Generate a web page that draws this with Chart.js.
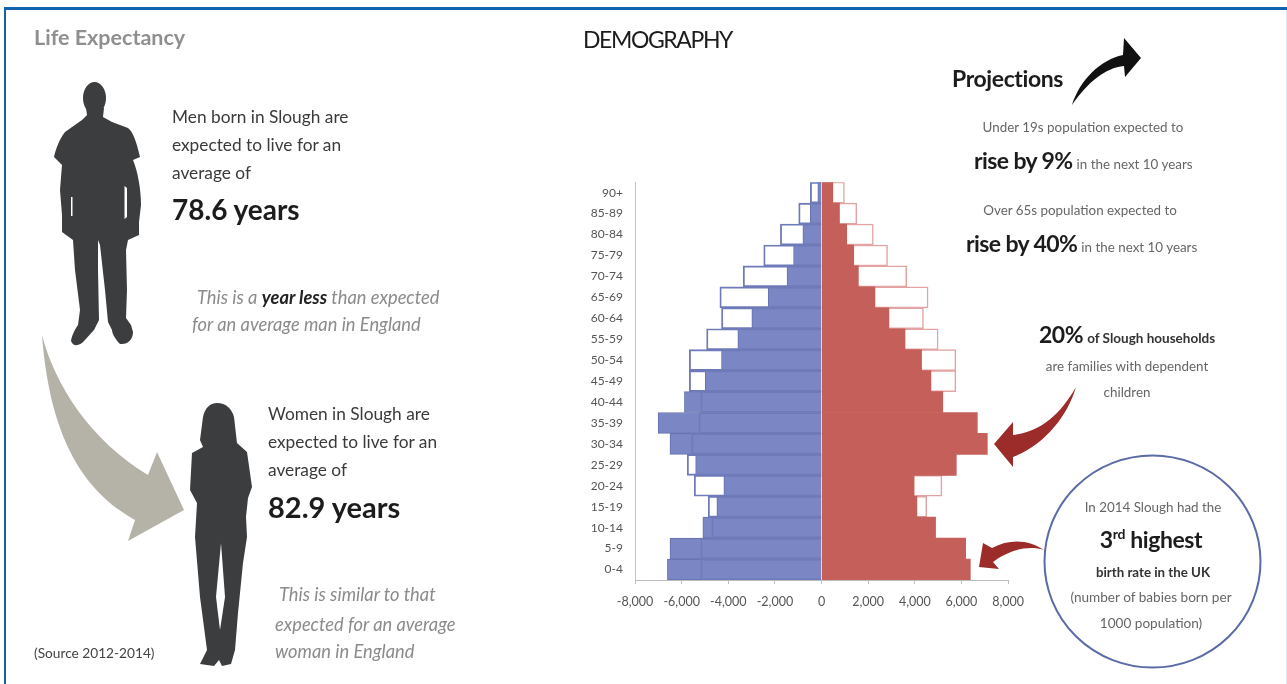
<!DOCTYPE html>
<html>
<head>
<meta charset="utf-8">
<title>Slough life expectancy and demography</title>
<script src="https://cdn.jsdelivr.net/npm/chart.js@4"></script>
<style>
  html, body { margin: 0; padding: 0; background: #fff; }
  #page { position: relative; width: 1287px; height: 684px; overflow: hidden; font-family: Lato, "Open Sans", sans-serif; color: #333; }
  #page .frame-top { position: absolute; left: 4px; right: 0; top: 7px; height: 3px; background: #1163ae; }
  #page .frame-left { position: absolute; left: 4px; top: 7px; bottom: 0; width: 2px; background: #1163ae; }
  #page .frame-right { position: absolute; right: 0; top: 10px; bottom: 0; width: 1px; background: #dbe7f5; }
  #pyramid { position: absolute; left: 575px; top: 171px; }
  #shapes { position: absolute; left: 0; top: 0; }
  .t { position: absolute; white-space: nowrap; transform: translateY(-50%); }
  .c { transform: translate(-50%, -50%); }
  .body { font-size: 17.3px; color: #3a3a3a; }
  .big { font-size: 28px; font-weight: 700; color: #1c1c1c; }
  .note { font-size: 18.3px; font-style: italic; color: #8b8b8b; }
  .note b { color: #222; }
  .small { font-size: 13.4px; color: #666; }
  .rise { font-size: 23px; font-weight: 700; color: #1c1c1c; letter-spacing: -0.6px; }
</style>
</head>
<body>
<div id="page">
  <div class="frame-top"></div>
  <div class="frame-left"></div>
  <div class="frame-right"></div>

  <canvas id="pyramid" width="459" height="439"></canvas>

  <svg id="shapes" width="1287" height="684">
    <!-- man -->
    <ellipse cx="94.5" cy="98" rx="11.5" ry="16" fill="#3b3d3f"/>
    <path fill="#3b3d3f" d="M86 108 L104 108 L103 117 L112 122 L128 128 C133 132 136 140 140 157 L133 160 C138 172 141 190 141 205 L139 222 L139 235 L128 240 L126 250 L127 290 L126 318 L131 325 L133 332 C133 339 128 345 120 344 C116 340 112 334 112 330 L108 322 L105 290 L100 245 L98 240 L98 270 L99 320 L94 330 L84 341 C80 346 73 347 71 341 C72 334 76 328 78 325 L80 310 L75 270 L73 240 L62 232 L62 215 L60 190 L62 165 L54 157 C56 148 60 138 65 132 L82 120 L87 115 Z"/>
    <path fill="#fff" d="M71 197 L72.5 197 L72.5 216 L71 216 Z M124.5 186 L127 188 L127 217 L124.5 219 Z"/>
    <!-- woman -->
    <path fill="#3b3d3f" d="M217 403 C226 403 232 409 234 417 L237 443 L247 452 L250 473 L252 487 L248 498 L246 517 L247 537 L243 563 L238 613 L235 650 L231 664 L222 666 L219 660 L214 666 L200 664 L207 650 L200 597 L195 537 L197 503 L190 490 L192 453 L203 447 L200 440 L203 417 C205 408 210 403 217 403 Z"/>
    <path fill="#fff" d="M221 543 L225 597 L220 630 L216 597 Z"/>
    <!-- grey arrow between the figures -->
    <path fill="#b5b3a8" d="M42 335 C55 385 90 440 148 475 L157 452 L184 510 L128 541 L135 520 C85 492 50 440 42 335 Z"/>
    <!-- projections arrow -->
    <path fill="#111" d="M1072 105 C1080 80 1100 60 1123 55 L1124 38 L1141 58 L1125 77 L1124 66 C1105 68 1088 82 1072 105 Z"/>
    <!-- red arrows -->
    <path fill="#9b2c2a" d="M1076 387 C1068 415 1045 445 1013 457 L1013 467 L994 444 L1013 422 L1013 435 C1040 432 1060 415 1076 387 Z"/>
    <path fill="#9b2c2a" d="M1044 550 C1030 540 1010 538 992 548 L983 543 L979 567 L999 569 L993 562 C1005 553 1025 544 1044 550 Z"/>
    <ellipse cx="1152.5" cy="561.5" rx="108" ry="106" fill="#fff" stroke="#5a6ba6" stroke-width="2"/>
  </svg>

  <div class="t" style="left:34px;top:37px;font-size:21.5px;font-weight:700;color:#8f8f8f">Life Expectancy</div>
  <div class="t" style="left:583px;top:39px;font-size:23px;color:#1c1c1c;letter-spacing:-1.4px">DEMOGRAPHY</div>

  <div class="t body" style="left:172px;top:116px">Men born in Slough are</div>
  <div class="t body" style="left:172px;top:144px">expected to live for an</div>
  <div class="t body" style="left:172px;top:172px">average of</div>
  <div class="t big" style="left:172px;top:209px">78.6 years</div>
  <div class="t note" style="left:197px;top:297px">This is a <b>year less</b> than expected</div>
  <div class="t note" style="left:192px;top:324px">for an average man in England</div>

  <div class="t body" style="left:268px;top:413px">Women in Slough are</div>
  <div class="t body" style="left:268px;top:441px">expected to live for an</div>
  <div class="t body" style="left:268px;top:469px">average of</div>
  <div class="t big" style="left:268px;top:506px;font-size:29px">82.9 years</div>
  <div class="t note" style="left:279px;top:594px">This is similar to that</div>
  <div class="t note" style="left:275px;top:624px">expected for an average</div>
  <div class="t note" style="left:275px;top:651px">woman in England</div>
  <div class="t" style="left:34px;top:652px;font-size:13.7px;color:#444">(Source 2012-2014)</div>

  <div class="t" style="left:952px;top:78px;font-size:23px;font-weight:700;color:#1c1c1c;letter-spacing:-0.4px">Projections</div>
  <div class="t small c" style="left:1083px;top:127px">Under 19s population expected to</div>
  <div class="t" style="left:974px;top:160px"><span class="rise">rise by 9%</span> <span class="small">in the next 10 years</span></div>
  <div class="t small c" style="left:1080px;top:210px">Over 65s population expected to</div>
  <div class="t" style="left:966px;top:243px"><span class="rise">rise by 40%</span> <span class="small">in the next 10 years</span></div>

  <div class="t" style="left:1039px;top:334px"><span style="font-size:23px;font-weight:700;color:#1c1c1c;letter-spacing:-0.5px">20%</span> <span style="font-size:13.5px;font-weight:700;color:#333">of Slough households</span></div>
  <div class="t small c" style="left:1127px;top:366px">are families with dependent</div>
  <div class="t small c" style="left:1127px;top:392px">children</div>

  <div class="t small c" style="left:1153px;top:507px">In 2014 Slough had the</div>
  <div class="t c" style="left:1151px;top:539px;font-size:23px;font-weight:700;color:#1c1c1c;letter-spacing:-0.4px">3<sup style="font-size:14px;line-height:0">rd</sup> highest</div>
  <div class="t c" style="left:1153px;top:572px;font-size:13.3px;font-weight:700;color:#333">birth rate in the UK</div>
  <div class="t small c" style="left:1151px;top:597px;font-size:13.6px">(number of babies born per</div>
  <div class="t small c" style="left:1151px;top:623px;font-size:13.6px">1000 population)</div>
</div>

<script>
// age bands run top to bottom, oldest first
const ageBands = ['90+', '85-89', '80-84', '75-79', '70-74', '65-69', '60-64', '55-59', '50-54', '45-49',
    '40-44', '35-39', '30-34', '25-29', '20-24', '15-19', '10-14', '5-9', '0-4'];

const maleFill = [-160, -480, -800, -1200, -1480, -2290, -2990, -3590, -4290, -4990,
    -5880, -7010, -6500, -5400, -4190, -4490, -5090, -6500, -6610];
const maleOutline = [-480, -980, -1765, -2480, -3360, -4360, -4290, -4930, -5670, -5670,
    -5180, -5260, -5570, -5760, -5460, -4860, -4710, -5180, -5180];

const femaleFill = [485, 770, 1080, 1380, 1580, 2290, 2890, 3580, 4290, 4690,
    5200, 6680, 7110, 5780, 3970, 4090, 4890, 6180, 6380];
const femaleOutline = [980, 1510, 2220, 2830, 3650, 4570, 4370, 5000, 5760, 5760,
    5200, 5200, 5500, 5500, 5160, 4510, 4500, 5000, 4800];

const xMin = -8000;
const xMax = 8000;
const xStep = 2000;

new Chart(document.getElementById('pyramid'), {
    type: 'bar',
    data: {
        labels: ageBands,
        datasets: [
            // lower order paints later: blue outline sits over its fill, red outline under it
            { data: femaleOutline, order: 4, backgroundColor: '#fff', borderColor: '#e2a3a2', borderWidth: 1.5 },
            { data: femaleFill, order: 3, backgroundColor: '#c45f5a', borderColor: '#c45f5a', borderWidth: 0 },
            { data: maleFill, order: 2, backgroundColor: '#7b87c4', borderColor: '#6571b0', borderWidth: 1 },
            { data: maleOutline, order: 1, backgroundColor: 'transparent', borderColor: '#6f7bb8', borderWidth: 1.2 }
        ]
    },
    options: {
        indexAxis: 'y',
        responsive: false,
        animation: false,
        layout: { padding: { top: 6 } },
        plugins: { legend: { display: false }, tooltip: { enabled: false } },
        datasets: { bar: { grouped: false, barPercentage: 1, categoryPercentage: 1 } },
        scales: {
            x: {
                min: xMin,
                max: xMax,
                border: { color: '#bdbdbd' },
                grid: { drawOnChartArea: false, tickColor: '#bdbdbd', tickLength: 4 },
                ticks: {
                    stepSize: xStep,
                    maxRotation: 0,
                    padding: 10,
                    color: '#555',
                    font: { family: 'Lato', size: 12.5 },
                    callback: value => value.toLocaleString('en-US')
                },
                afterFit: scale => { scale.height = 30; }
            },
            y: {
                border: { color: '#c4c4c4' },
                grid: { display: false },
                ticks: { padding: 4, color: '#555', font: { family: 'Lato', size: 12 }, autoSkip: false },
                afterFit: scale => { scale.width = 60; }
            }
        }
    }
});
</script>
</body>
</html>
